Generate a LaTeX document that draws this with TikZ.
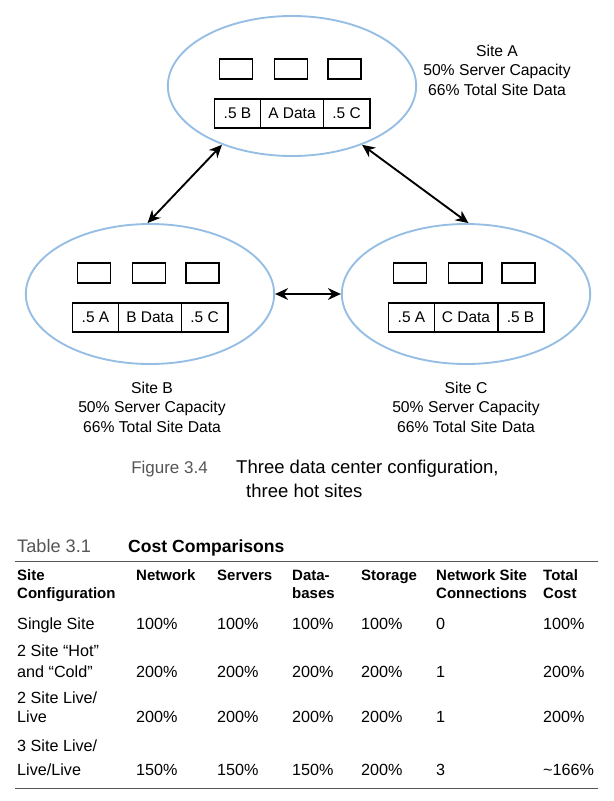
\documentclass[tikz,border=0pt]{standalone}
\usepackage{fontspec}
\setmainfont{Liberation Sans}
\usetikzlibrary{positioning,shapes.geometric,arrows.meta}
\definecolor{siteblue}{RGB}{150,190,228}
\definecolor{capgray}{RGB}{85,85,85}

\begin{document}
\begin{tikzpicture}[x=0.03cm,y=-0.03cm,
  site/.style={ellipse,draw=siteblue,line width=1.6pt,minimum width=7.45cm,minimum height=4.2cm},
  server/.style={draw,line width=1.7pt,minimum width=0.99cm,minimum height=0.6cm,inner sep=0pt},
  cell/.style={draw,line width=1.7pt,minimum width=1.38cm,minimum height=0.87cm,inner sep=0pt,outer sep=0pt,font=\fontsize{13.2}{15}\selectfont},
  wide/.style={minimum width=1.89cm},
  link/.style={line width=1.6pt,{Stealth[length=11pt,width=10pt]}-{Stealth[length=11pt,width=10pt]}},
  sitetext/.style={align=center,font=\fontsize{13.4}{16.6}\selectfont},
  capt/.style={anchor=base west,inner sep=0pt,font=\fontsize{15.8}{18}\selectfont},
  tabt/.style={anchor=base west,inner sep=0pt,font=\fontsize{13.8}{16}\selectfont},
  head/.style={tabt,font=\fontsize{12.8}{15}\selectfont\bfseries}]
  \useasboundingbox (0,0) rectangle (614,801);

  % the three sites
  \foreach \s/\x/\y/\sy/\l/\r in {A/292/86/69/B/C,B/150/294/273/A/C,C/466/294/273/A/B}{
    \node[site] (site\s) at (\x,\y) {};
    \foreach \dx [count=\i] in {-56,-1,52.5}
      \node[server] (srv\s\i) at (\x+\dx,\sy) {};
    \node[cell,wide] (data\s) at (\x,\sy+44.5) {\s\ Data};
    \node[cell,left=0pt of data\s] (left\s) {.5 \l};
    \node[cell,right=0pt of data\s] (right\s) {.5 \r};
  }
  \node[sitetext] (txtA) at (497,70) {Site A\\50\% Server Capacity\\66\% Total Site Data};
  \node[sitetext] (txtB) at (152,407) {Site B\\50\% Server Capacity\\66\% Total Site Data};
  \node[sitetext] (txtC) at (466,407) {Site C\\50\% Server Capacity\\66\% Total Site Data};

  \draw[link] (siteA.220) -- (siteB.92);
  \draw[link] (siteA.320) -- (siteC.88);
  \draw[link] (siteB.east) -- (siteC.west);

  % caption
  \node[capt,anchor=base east,text=capgray,font=\fontsize{14.5}{18}\selectfont] (fig) at (208,473) {Figure 3.4};
  \node[capt] (capA) at (236,473) {Three data center configuration,};
  \node[capt] (capB) at (246,497) {three hot sites};

  % table
  \node[tabt,text=capgray,font=\fontsize{15.5}{18}\selectfont] (tab) at (17,552) {Table 3.1};
  \node[tabt,font=\fontsize{15}{18}\selectfont\bfseries] (tabname) at (128,552) {Cost Comparisons};
  \coordinate (ruleL) at (15,561);
  \coordinate (ruleR) at (598,561);
  \coordinate (endL) at (15,788);
  \coordinate (endR) at (598,788);
  \draw[capgray,line width=0.8pt] (ruleL) -- (ruleR);
  \draw[capgray,line width=0.8pt] (endL) -- (endR);

  \foreach \x/\t [count=\c] in {17/Site,136/Network,217/Servers,292/Data-,361/Storage,436/Network Site,543/Total}
    \node[head] (hdA\c) at (\x,580) {\t};
  \foreach \x/\t [count=\c] in {17/Configuration,292/bases,436/Connections,543/Cost}
    \node[head] (hdB\c) at (\x,598) {\t};

  \foreach \x/\t [count=\c] in {17/Single Site,136/100\%,217/100\%,292/100\%,361/100\%,436/0,543/100\%}
    \node[tabt] (rowA\c) at (\x,629) {\t};
  \node[tabt] (rowB0) at (17,656) {2 Site “Hot”};
  \foreach \x/\t [count=\c] in {17/and “Cold”,136/200\%,217/200\%,292/200\%,361/200\%,436/1,543/200\%}
    \node[tabt] (rowB\c) at (\x,677) {\t};
  \node[tabt] (rowC0) at (17,703) {2 Site Live/};
  \foreach \x/\t [count=\c] in {17/Live,136/200\%,217/200\%,292/200\%,361/200\%,436/1,543/200\%}
    \node[tabt] (rowC\c) at (\x,722) {\t};
  \node[tabt] (rowD0) at (17,751) {3 Site Live/};
  \foreach \x/\t [count=\c] in {17/{Live/Live},136/150\%,217/150\%,292/150\%,361/200\%,436/3,543/\textasciitilde166\%}
    \node[tabt] (rowD\c) at (\x,775) {\t};
\end{tikzpicture}
\end{document}
